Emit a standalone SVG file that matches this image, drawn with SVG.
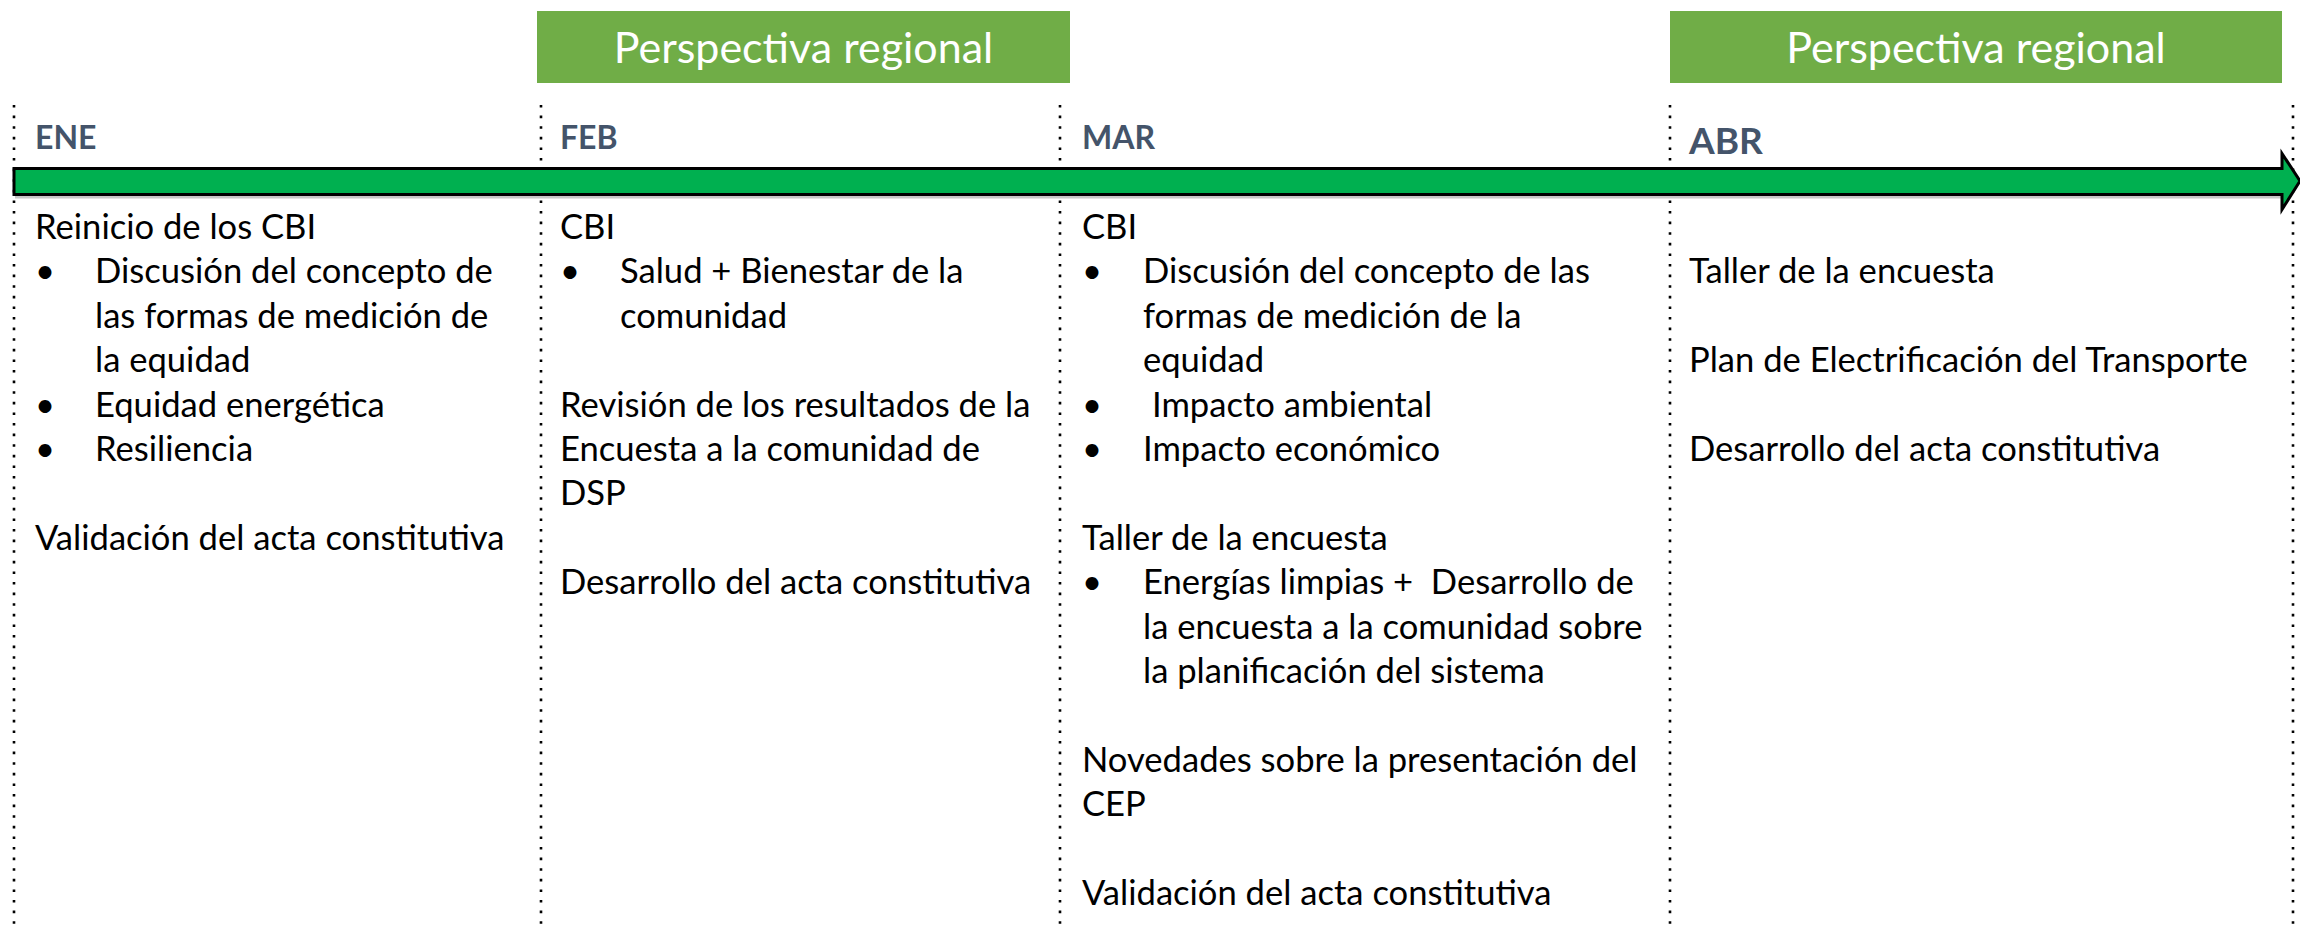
<svg xmlns="http://www.w3.org/2000/svg" width="2300" height="926" viewBox="0 0 2300 926">
<style>
.bg{fill:#FFFFFF}
.grid line{stroke:#000;stroke-width:2.6;stroke-dasharray:2.6 8;}
.banner rect{fill:#70AD47}
.banner text{font-family:Lato,"Open Sans",sans-serif;font-size:43px;fill:#FFFFFF;text-anchor:middle}
.month{font-family:Lato,"Open Sans",sans-serif;font-weight:bold;font-size:32px;fill:#44546A}
.month.big{font-size:37px}
.body{font-family:Lato,"Open Sans",sans-serif;font-size:34.6px;fill:#000000}
</style>
<rect class="bg" x="0" y="0" width="2300" height="926"/>
<g id="gridlines" class="grid">
<line x1="14" y1="105" x2="14" y2="926"/>
<line x1="541" y1="105" x2="541" y2="926"/>
<line x1="1060" y1="105" x2="1060" y2="926"/>
<line x1="1670" y1="105" x2="1670" y2="926"/>
<line x1="2293" y1="105" x2="2293" y2="926"/>
</g>
<g id="connectors">
<path id="timeline-shadow" d="M15 197 H2283" stroke="#C8C8C8" stroke-width="3" fill="none"/>
<path id="timeline" d="M14 168.5 H2282 V153.5 L2300 181 L2282 209.5 V194.5 H14 Z" fill="#00B050" stroke="#000" stroke-width="3" stroke-linejoin="miter"/>
</g>
<g id="banner-1" class="banner">
<rect x="537" y="11" width="533" height="72"/>
<text x="803.5" y="63">Perspectiva regional</text>
</g>
<g id="banner-2" class="banner">
<rect x="1670" y="11" width="612" height="72"/>
<text x="1976" y="63">Perspectiva regional</text>
</g>
<g id="col-ene">
<text class="month" x="35" y="149">ENE</text>
<g class="body">
<text x="35" y="239">Reinicio de los CBI</text>
<text x="35" y="283.4">•</text><text x="95" y="283.4">Discusión del concepto de</text>
<text x="95" y="327.8">las formas de medición de</text>
<text x="95" y="372.2">la equidad</text>
<text x="35" y="416.6">•</text><text x="95" y="416.6">Equidad energética</text>
<text x="35" y="461">•</text><text x="95" y="461">Resiliencia</text>
<text x="35" y="549.8">Validación del acta constitutiva</text>
</g>
</g>
<g id="col-feb">
<text class="month" x="560" y="149">FEB</text>
<g class="body">
<text x="560" y="239">CBI</text>
<text x="560" y="283.4">•</text><text x="620" y="283.4">Salud + Bienestar de la</text>
<text x="620" y="327.8">comunidad</text>
<text x="560" y="416.6">Revisión de los resultados de la</text>
<text x="560" y="461">Encuesta a la comunidad de</text>
<text x="560" y="505.4">DSP</text>
<text x="560" y="594.2">Desarrollo del acta constitutiva</text>
</g>
</g>
<g id="col-mar">
<text class="month" x="1082" y="149">MAR</text>
<g class="body">
<text x="1082" y="239">CBI</text>
<text x="1082" y="283.4">•</text><text x="1143" y="283.4">Discusión del concepto de las</text>
<text x="1143" y="327.8">formas de medición de la</text>
<text x="1143" y="372.2">equidad</text>
<text x="1082" y="416.6">•</text><text x="1152" y="416.6">Impacto ambiental</text>
<text x="1082" y="461">•</text><text x="1143" y="461">Impacto económico</text>
<text x="1082" y="549.8">Taller de la encuesta</text>
<text x="1082" y="594.2">•</text><text x="1143" y="594.2" xml:space="preserve">Energías limpias +  Desarrollo de</text>
<text x="1143" y="638.6">la encuesta a la comunidad sobre</text>
<text x="1143" y="683">la planificación del sistema</text>
<text x="1082" y="771.8">Novedades sobre la presentación del</text>
<text x="1082" y="816.2">CEP</text>
<text x="1082" y="905">Validación del acta constitutiva</text>
</g>
</g>
<g id="col-abr">
<text class="month big" x="1689" y="154">ABR</text>
<g class="body">
<text x="1689" y="283.4">Taller de la encuesta</text>
<text x="1689" y="372.2">Plan de Electrificación del Transporte</text>
<text x="1689" y="461">Desarrollo del acta constitutiva</text>
</g>
</g>
</svg>
